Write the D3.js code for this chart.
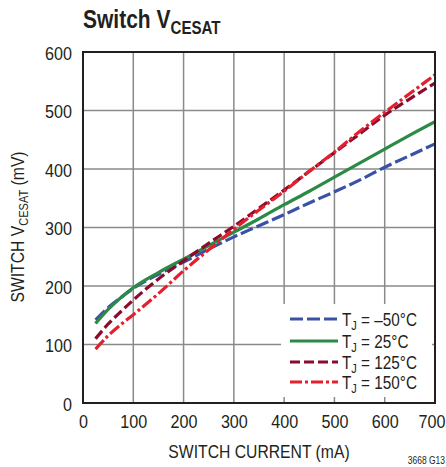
<!DOCTYPE html>
<html><head><meta charset="utf-8">
<script src="https://cdn.jsdelivr.net/npm/d3@7"></script>
<style>
body{margin:0;background:#fff}
text{font-family:"Liberation Sans",Arial,sans-serif;fill:#231f20}
</style>
</head><body>
<svg id="c" width="446" height="467"></svg>
<script>
// ---- data ----
const currents = [25,50,75,100,150,200,250,300,350,400,450,500,550,600,650,700];
const vcesatM50  = [142,163,180,196,220,241,263,284,303,322,342,361,381,403,423,443];
const vcesat25   = [136,160,180,197,223,246,269,292,315,339,362,386,410,434,458,481];
const vcesat125  = [110,135,156,176,212,243,273,302,333,364,396,428,460,492,520,547];
const vcesat150  = [ 92,115,134,151,187,226,262,297,330,362,396,429,464,497,529,561];
const tempLabels = ["–50°C","25°C","125°C","150°C"];
const xTicks = [0,100,200,300,400,500,600,700];
const yTicks = [0,100,200,300,400,500,600];

const seriesValues = [vcesatM50, vcesat25, vcesat125, vcesat150];
const colors = ["#3a52a6","#2b8a45","#8c0a2c","#e3202e"];
const dashes = ["13,4","none","10,4","12,3,3,3"];

const svg = d3.select("#c");
const x = d3.scaleLinear().domain([0,700]).range([83,435]);
const y = d3.scaleLinear().domain([0,600]).range([403,52]);
const SX = 0.85;

// grid
const grid = svg.append("g");
grid.selectAll("line.v").data(xTicks.slice(1,-1)).join("line")
  .attr("x1",d=>x(d)).attr("x2",d=>x(d)).attr("y1",y(0)).attr("y2",y(600))
  .attr("stroke","#8a8a8a").attr("stroke-width",1.5);
grid.selectAll("line.h").data(yTicks.slice(1,-1)).join("line")
  .attr("y1",d=>y(d)).attr("y2",d=>y(d)).attr("x1",x(0)).attr("x2",x(700))
  .attr("stroke","#8a8a8a").attr("stroke-width",1.5);

// axes labels via d3 axes
const xAxis = svg.append("g").attr("transform",`translate(0,${y(0)})`)
  .call(d3.axisBottom(x).tickValues(xTicks).tickSize(0).tickPadding(12));
xAxis.select(".domain").remove();
xAxis.selectAll("text").attr("font-size",19).attr("fill","#231f20")
  .attr("font-family","Liberation Sans, Arial, sans-serif")
  .attr("dy",0).attr("y",25).attr("transform",`scale(${SX},1)`)
  .filter(d=>d===700).attr("text-anchor","end").attr("x",10/SX);

const yAxis = svg.append("g").attr("transform",`translate(${x(0)},0)`)
  .call(d3.axisLeft(y).tickValues(yTicks).tickSize(0).tickPadding(0));
yAxis.select(".domain").remove();
yAxis.selectAll("text").attr("font-size",19).attr("fill","#231f20")
  .attr("font-family","Liberation Sans, Arial, sans-serif")
  .attr("dy",0).attr("y",7).attr("x",-11/SX).attr("transform",`scale(${SX},1)`);

// curves
const clip = svg.append("clipPath").attr("id","pc").append("rect")
  .attr("x",x(0)).attr("y",y(600)).attr("width",x(700)-x(0)).attr("height",y(0)-y(600));
const line = d3.line().x(d=>x(d[0])).y(d=>y(d[1])).curve(d3.curveMonotoneX);
const curves = svg.append("g").attr("clip-path","url(#pc)");
seriesValues.forEach((vals,i)=>{
  curves.append("path").datum(currents.map((c,j)=>[c,vals[j]]))
    .attr("d",line).attr("fill","none").attr("stroke",colors[i])
    .attr("stroke-width",3.2).attr("stroke-dasharray",dashes[i]);
});

// legend
const lg = svg.append("g");
lg.append("rect").attr("x",281).attr("y",304).attr("width",151).attr("height",93).attr("fill","#fff");
const rowY = [319,341,362,382];
tempLabels.forEach((t,i)=>{
  lg.append("line").attr("x1",290).attr("x2",338).attr("y1",rowY[i]).attr("y2",rowY[i])
    .attr("stroke",colors[i]).attr("stroke-width",3.2).attr("stroke-dasharray",dashes[i]);
  const tx = lg.append("text").attr("transform",`translate(342,${rowY[i]+7}) scale(${SX},1)`)
    .attr("font-size",18);
  tx.append("tspan").text("T");
  tx.append("tspan").attr("font-size",13).attr("dy",4).text("J");
  tx.append("tspan").attr("dy",-4).text(" = "+t);
});

// frame
svg.append("rect").attr("x",x(0)).attr("y",y(600)).attr("width",x(700)-x(0)).attr("height",y(0)-y(600))
  .attr("fill","none").attr("stroke","#231f20").attr("stroke-width",2);

// title
const title = svg.append("text").attr("transform",`translate(83,28) scale(0.84,1)`)
  .attr("font-size",25).attr("font-weight","bold");
title.append("tspan").text("Switch V");
title.append("tspan").attr("font-size",18).attr("dy",6).text("CESAT");

// x title
svg.append("text").attr("transform",`translate(259,458) scale(${SX},1)`)
  .attr("text-anchor","middle").attr("font-size",18.5).text("SWITCH CURRENT (mA)");

// y title
const yt = svg.append("text").attr("transform",`translate(24,227) rotate(-90) scale(${SX},1)`)
  .attr("text-anchor","middle").attr("font-size",18.5);
yt.append("tspan").text("SWITCH V");
yt.append("tspan").attr("font-size",13).attr("dy",4).text("CESAT");
yt.append("tspan").attr("dy",-4).text(" (mV)");

// figure id
svg.append("text").attr("transform",`translate(445,464) scale(${SX},1)`)
  .attr("text-anchor","end").attr("font-size",10).text("3668 G13");
</script>
</body></html>
